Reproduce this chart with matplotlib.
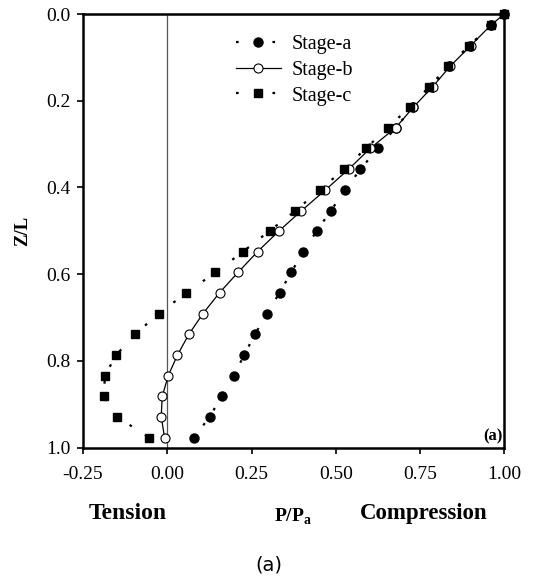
"""
Axial load distribution along the pile, P/Pa against Z/L, for three loading stages.
"""

import matplotlib
matplotlib.use("Agg")
import matplotlib.pyplot as plt

plt.rcParams["mathtext.fontset"] = "custom"
plt.rcParams["mathtext.rm"] = "Liberation Serif"
plt.rcParams["mathtext.bf"] = "Liberation Serif:bold"

# depth ratio Z/L, same for all stages
z_l = [0.0, 0.025, 0.073, 0.120, 0.168, 0.215, 0.262, 0.310, 0.358, 0.406, 0.454,
       0.500, 0.548, 0.596, 0.643, 0.691, 0.739, 0.787, 0.834, 0.882, 0.929, 0.977]

stage_a = [1.000, 0.961, 0.898, 0.837, 0.785, 0.729, 0.678, 0.625, 0.573, 0.528, 0.485,
           0.444, 0.403, 0.368, 0.333, 0.296, 0.260, 0.228, 0.197, 0.161, 0.126, 0.079]
stage_b = [1.000, 0.961, 0.900, 0.840, 0.787, 0.730, 0.678, 0.602, 0.538, 0.469, 0.398,
           0.332, 0.268, 0.210, 0.155, 0.106, 0.064, 0.030, 0.003, -0.015, -0.018, -0.008]
stage_c = [1.000, 0.961, 0.896, 0.834, 0.777, 0.719, 0.655, 0.589, 0.525, 0.452, 0.380,
           0.304, 0.225, 0.143, 0.057, -0.025, -0.096, -0.152, -0.185, -0.188, -0.150, -0.053]

x_ticks = [-0.25, 0.0, 0.25, 0.5, 0.75, 1.0]
x_labels = ["-0.25", "0.00", "0.25", "0.50", "0.75", "1.00"]
y_ticks = [0.0, 0.2, 0.4, 0.6, 0.8, 1.0]

serif = "Liberation Serif"

fig = plt.figure(figsize=(5.38, 5.79), dpi=100)
ax = fig.add_axes([0.1543, 0.2271, 0.7831, 0.7487])

dots = (0, (1.2, 7))
ax.axvline(0.0, color="#555555", lw=0.9, zorder=1)
ax.plot(stage_a, z_l, linestyle=dots, lw=1.6, color="black", marker="o",
        ms=6.5, mfc="black", mec="black", label="Stage-a", zorder=2, clip_on=False)
ax.plot(stage_b, z_l, linestyle="-", lw=0.9, color="black", marker="o",
        ms=6.5, mfc="white", mec="black", mew=0.8, label="Stage-b", zorder=3, clip_on=False)
ax.plot(stage_c, z_l, linestyle=dots, lw=1.6, color="black", marker="s",
        ms=6, mfc="black", mec="black", label="Stage-c", zorder=4, clip_on=False)

ax.set_xlim(-0.25, 1.0)
ax.set_ylim(1.0, 0.0)
ax.set_xticks(x_ticks)
ax.set_xticklabels(x_labels)
ax.set_yticks(y_ticks)
ax.set_yticklabels([f"{v:.1f}" for v in y_ticks])
ax.tick_params(direction="out", length=4, width=1.2, labelsize=14)
ax.tick_params(axis="x", pad=9)
ax.tick_params(axis="y", pad=5)
for lab in ax.get_xticklabels() + ax.get_yticklabels():
    lab.set_fontfamily(serif)
for sp in ax.spines.values():
    sp.set_linewidth(1.8)

ax.set_ylabel("Z/L", fontfamily=serif, fontweight="bold", fontsize=13.5, labelpad=11)

leg = ax.legend(loc="upper left", bbox_to_anchor=(0.34, 0.975), frameon=False,
                prop={"family": serif, "size": 14.5}, handlelength=2.2,
                handletextpad=0.55, labelspacing=0.33, borderpad=0)

ax.text(0.995, 0.008, "(a)", transform=ax.transAxes, ha="right", va="bottom",
        fontfamily=serif, fontweight="bold", fontsize=12)

fig.text(0.238, 0.113, "Tension", fontfamily=serif, fontweight="bold", fontsize=17,
         ha="center", va="center")
fig.text(0.788, 0.113, "Compression", fontfamily=serif, fontweight="bold", fontsize=16.5,
         ha="center", va="center")
fig.text(0.545, 0.108, r"P/P$_\mathbf{a}$", fontfamily=serif, fontweight="bold",
         fontsize=14, ha="center", va="center")

fig.text(0.5, 0.025, "(a)", fontfamily="DejaVu Sans", fontsize=14,
         ha="center", va="center")

fig.savefig("out.png", dpi=100)
